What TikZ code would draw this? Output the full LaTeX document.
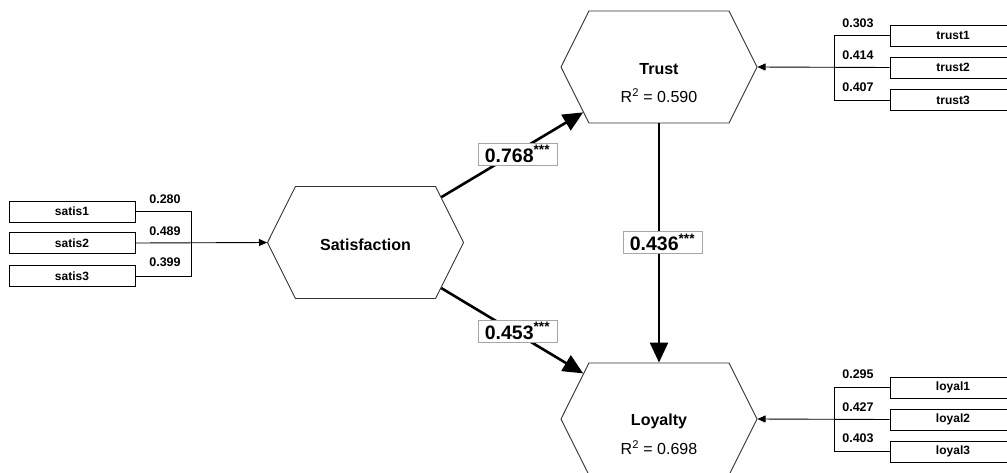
\documentclass[tikz,border=0pt]{standalone}
\usepackage{fontspec}
\setmainfont{Liberation Sans}
\usetikzlibrary{shapes.symbols,arrows.meta}
\begin{document}
\begin{tikzpicture}[x=1pt,y=-1pt,
  hex/.style={shape=signal, signal to=west and east, signal pointer angle=127,
    minimum width=196pt, minimum height=112pt, inner sep=0pt,
    draw=black!80, line width=0.9pt, fill=white},
  ind/.style={draw=black, line width=0.9pt, minimum width=126pt, minimum height=21pt,
    inner sep=0pt, font=\fontsize{12}{14}\selectfont\bfseries},
  load/.style={font=\fontsize{12.5}{14}\selectfont\bfseries, inner sep=0pt},
  lv/.style={font=\fontsize{16}{19}\selectfont\bfseries, inner sep=0pt},
  rsq/.style={font=\fontsize{16}{19}\selectfont, inner sep=0pt},
  coef/.style={draw=black!35, fill=white, line width=0.8pt, minimum width=79pt,
    minimum height=22pt, inner sep=0pt, font=\fontsize{19.5}{22}\selectfont\bfseries},
  meas/.style={line width=0.9pt, -{Triangle[length=8pt,width=7pt]}},
  link/.style={line width=0.9pt},
  struct/.style={line width=2.6pt, -{Triangle[length=20pt,width=18pt]}},
]
\useasboundingbox (0,0) rectangle (1007,472);
\clip (0,0) rectangle (1007,472);
\fill[white] (0,0) rectangle (1007,472);

% latent variables
\node[hex] (sat) at (365.5,242.5) {};
\node[hex] (trust) at (659,67) {};
\node[hex] (loy) at (659,419) {};

\node[lv] (satname) at (365.5,245) {Satisfaction};
\node[lv] (trustname) at (659,69) {Trust};
\node[rsq] (trustr) at (659,96) {R\textsuperscript{2} = 0.590};
\node[lv] (loyname) at (659,421) {Loyalty};
\node[rsq] (loyr) at (659,448) {R\textsuperscript{2} = 0.698};

% satisfaction indicators
\node[ind] (s1) at (72,211.5) {satis1};
\node[ind] (s2) at (72,243) {satis2};
\node[ind] (s3) at (72,276) {satis3};
\coordinate (sbar) at (191,243);
\draw[link] (s1.east) -| (sbar |- s3.east) -- (s3.east);
\draw[meas] (s2.east) -- (sat.west);
\node[load] (ls1) at (165,199) {0.280};
\node[load] (ls2) at (165,231) {0.489};
\node[load] (ls3) at (165,262) {0.399};

% trust indicators
\node[ind] (t1) at (953,35.5) {trust1};
\node[ind] (t2) at (953,67.5) {trust2};
\node[ind] (t3) at (953,100) {trust3};
\coordinate (tbar) at (834,67);
\draw[link] (t1.west) -| (tbar |- t3.west) -- (t3.west);
\draw[meas] (t2.west) -- (trust.east);
\node[load] (lt1) at (858,23) {0.303};
\node[load] (lt2) at (858,55) {0.414};
\node[load] (lt3) at (858,87) {0.407};

% loyalty indicators
\node[ind] (l1) at (953,387.5) {loyal1};
\node[ind] (l2) at (953,419.5) {loyal2};
\node[ind] (l3) at (953,451.5) {loyal3};
\coordinate (lbar) at (834,419);
\draw[link] (l1.west) -| (lbar |- l3.west) -- (l3.west);
\draw[meas] (l2.west) -- (loy.east);
\node[load] (ll1) at (858,374) {0.295};
\node[load] (ll2) at (858,407) {0.427};
\node[load] (ll3) at (858,438) {0.403};

% structural paths
\draw[struct] (sat) -- (trust);
\draw[struct] (sat) -- (loy);
\draw[struct] (trust) -- (loy);

\node[coef] (c1) at (517.5,154) {0.768\textsuperscript{***}};
\node[coef] (c2) at (517.5,331) {0.453\textsuperscript{***}};
\node[coef] (c3) at (662.5,242.5) {0.436\textsuperscript{***}};
\end{tikzpicture}
\end{document}
